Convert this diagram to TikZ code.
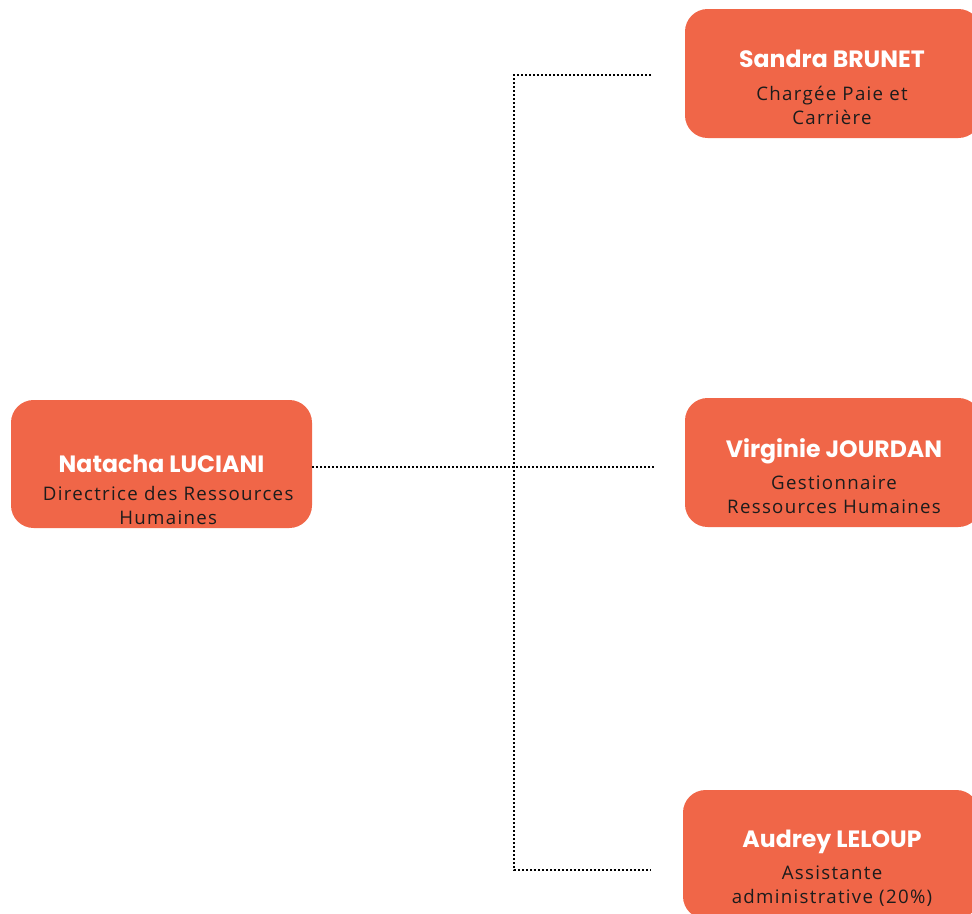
\documentclass[tikz,border=0pt]{standalone}
\usepackage{fontspec}
\setmainfont[LetterSpace=7]{Open Sans}
\newfontfamily\namefont{Poppins}
\usetikzlibrary{positioning}
\definecolor{hrorange}{RGB}{240,102,72}
\definecolor{hrtext}{RGB}{28,28,28}

\begin{document}
\begin{tikzpicture}[x=0.75pt, y=0.75pt,
    card/.style={rectangle, fill=hrorange, rounded corners=17pt, minimum width=222pt, minimum height=96.75pt, inner sep=0pt},
    who/.style={text=white, font=\namefont\bfseries\fontsize{17.7}{21}\selectfont, inner sep=0pt, text height=12.4pt, text depth=0pt},
    job/.style={text=hrtext, align=center, font=\fontsize{14}{18}\selectfont, inner sep=0pt},
    link/.style={line width=1.3pt, dash pattern=on 1.4pt off 1.6pt}
]
    \useasboundingbox (0,0) rectangle (972,-914);

    % boxes
    \node[card, minimum width=225.75pt, minimum height=96pt] (drh) at (161.5,-464) {};
    \node[card] (paie) at (833,-73.5) {};
    \node[card] (gest) at (833,-462.5) {};
    \node[card] (assist) at (831,-854.5) {};

    % names and roles
    \node[who] (drhname) at (161.5,-464) {Natacha LUCIANI};
    \node[job, below=10pt of drhname, xshift=5pt] (drhjob) {Directrice des Ressources\\Humaines};
    \node[who] (paiename) at (832,-59) {Sandra BRUNET};
    \node[job, below=13.5pt of paiename] (paiejob) {Chargée Paie et\\Carrière};
    \node[who] (gestname) at (834,-449) {Virginie JOURDAN};
    \node[job, below=13.5pt of gestname] (gestjob) {Gestionnaire\\Ressources Humaines};
    \node[who] (assistname) at (832,-839) {Audrey LELOUP};
    \node[job, below=13.5pt of assistname] (assistjob) {Assistante\\administrative (20\%)};

    % dotted links
    \coordinate (trunk) at (514,-467);
    \coordinate (topend) at (651,-75);
    \coordinate (midend) at (654,-467);
    \coordinate (lowend) at (651,-870);
    \draw[link] (drh.east |- midend) -- (midend);
    \draw[link] (topend) -| (trunk) |- (lowend);
\end{tikzpicture}
\end{document}
